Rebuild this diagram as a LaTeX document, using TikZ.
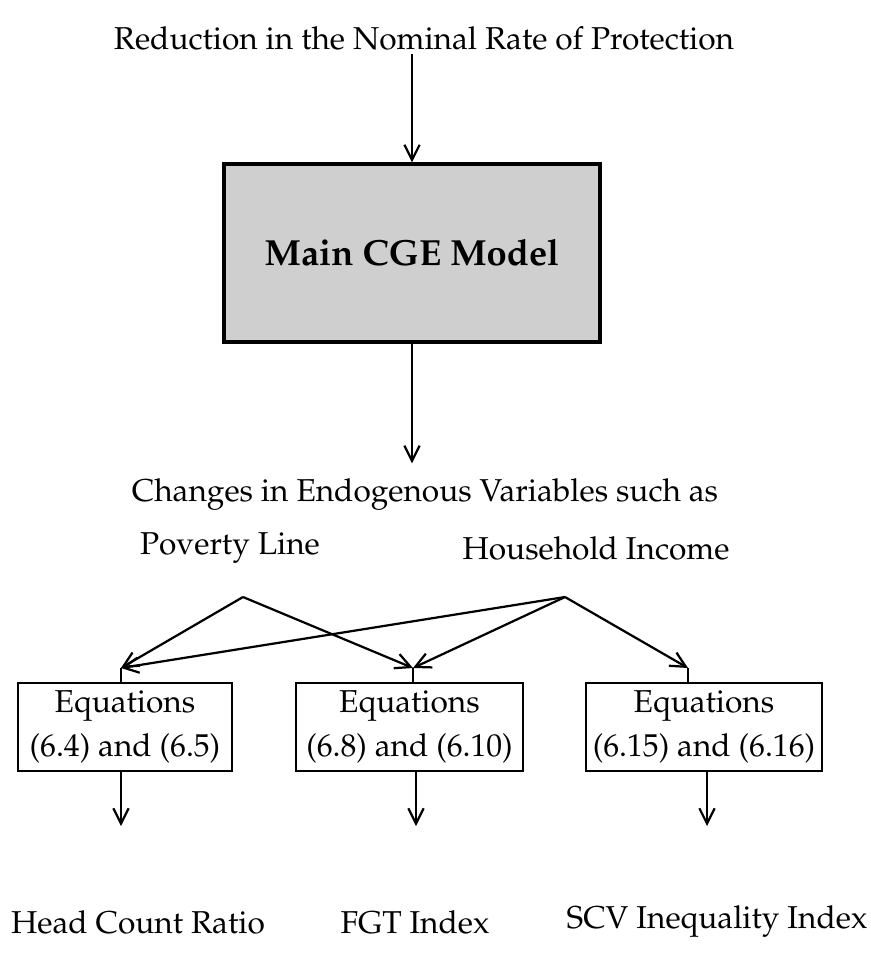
\documentclass[tikz,border=0pt]{standalone}
\usepackage[T1]{fontenc}
\usepackage{mathpazo}
\usepackage{tikz}
\usetikzlibrary{shapes,arrows.meta}
\tikzstyle{block} = [rectangle, draw, line width=2.6pt, fill=black!19, minimum width=11.28cm, minimum height=5.34cm, font=\fontsize{31}{36}\selectfont\bfseries]
\tikzstyle{eqbox} = [rectangle, draw, line width=2.4pt, minimum height=2.64cm, align=center, font=\fontsize{27}{38}\selectfont]
\tikzstyle{line} = [draw, line width=1.9pt, -{Straight Barb[length=13pt, width=13pt, line width=1.9pt]}]
\tikzstyle{stub} = [draw, line width=1.9pt]
\tikzstyle{textvar} = [rectangle, text centered, font=\fontsize{27}{32}\selectfont]

\begin{document}
\begin{tikzpicture}[node distance = 2cm, auto]
      \useasboundingbox (0,0) rectangle (26.13,-28.71);
      % place nodes
      \node [textvar] (reduction) at (12.72,-1.14) {Reduction in the Nominal Rate of Protection};
      \node [block] (cge) at (12.36,-7.59) {Main CGE Model};
      \node [textvar] (changes) at (12.75,-14.85) {Changes in Endogenous Variables such as};
      \node [textvar] (pl) at (6.9,-16.44) {Poverty Line};
      \node [textvar, right of=pl, node distance=10.98cm] (hi) {Household Income};
      \coordinate (plpt) at (7.29,-17.91);
      \coordinate (hipt) at (16.95,-17.91);

      \node [eqbox, minimum width=6.42cm] (eq1) at (3.75,-21.81) {Equations\\(6.4) and (6.5)};
      \node [eqbox, minimum width=6.81cm] (eq2) at (12.285,-21.81) {Equations\\(6.8) and (6.10)};
      \node [eqbox, minimum width=7.08cm] (eq3) at (21.12,-21.81) {Equations\\(6.15) and (6.16)};
      \coordinate (in1) at (3.63,-20.04);
      \coordinate (in2) at (12.39,-20.04);
      \coordinate (in3) at (20.64,-20.04);
      \coordinate (out1) at (3.63,-24.78);
      \coordinate (out2) at (12.48,-24.78);
      \coordinate (out3) at (21.21,-24.78);

      \node [textvar] (hcr) at (4.14,-27.66) {Head Count Ratio};
      \node [textvar] (fgt) at (12.45,-27.66) {FGT Index};
      \node [textvar] (scv) at (21.51,-27.66) {SCV Inequality Index};

      % draw edges
      \path [line] (reduction.south -| cge.north) -- (cge.north);
      \path [line, shorten >=0.35cm] (cge.south) -- (cge.south |- changes.north);
      \path [line] (plpt) -- (in1);
      \path [line] (plpt) -- (in2);
      \path [line] (hipt) -- (in1);
      \path [line] (hipt) -- (in2);
      \path [line] (hipt) -- (in3);
      \path [stub] (in1) -- (in1 |- eq1.north);
      \path [stub] (in2) -- (in2 |- eq2.north);
      \path [stub] (in3) -- (in3 |- eq3.north);
      \path [line] (out1 |- eq1.south) -- (out1);
      \path [line] (out2 |- eq2.south) -- (out2);
      \path [line] (out3 |- eq3.south) -- (out3);
    \end{tikzpicture}
\end{document}
